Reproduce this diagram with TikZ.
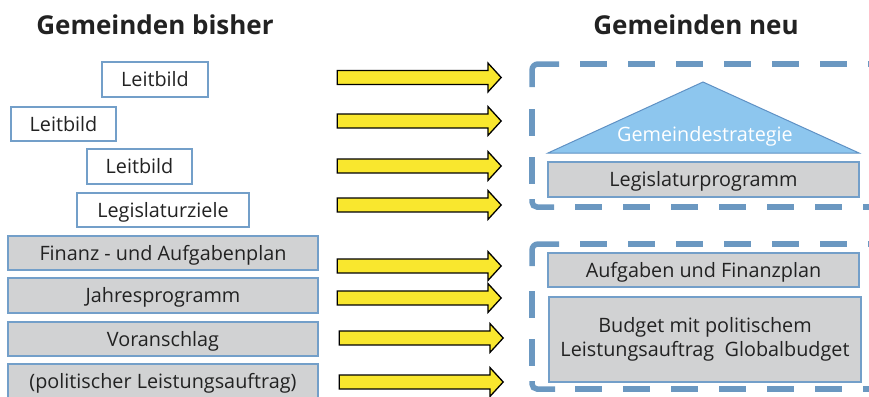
\documentclass[tikz,border=0pt]{standalone}
\usepackage{fontspec}
\setmainfont{Open Sans}
\usetikzlibrary{shapes.arrows}
\definecolor{txt}{HTML}{222222}
\definecolor{boxblue}{HTML}{739FC9}
\definecolor{boxgray}{HTML}{D1D2D3}
\definecolor{dashblue}{HTML}{6B98C1}
\definecolor{trifill}{HTML}{8DC6EE}
\definecolor{triline}{HTML}{5F91C4}
\definecolor{arrowyellow}{HTML}{F9E72E}
\tikzset{
  basetext/.style={font=\fontsize{19.8}{24}\selectfont, text=txt, inner sep=0pt},
  bodytext/.style={basetext, text height=14.1pt, text depth=0pt},
  wbox/.style={bodytext, draw=boxblue, line width=1.5pt, fill=white},
  gbox/.style={bodytext, draw=boxblue, line width=1.5pt, fill=boxgray},
  gboxml/.style={basetext, align=center, draw=boxblue, line width=1.5pt, fill=boxgray},
  titletext/.style={font=\fontsize{26}{30}\selectfont\bfseries, text=txt, inner sep=0pt, anchor=base},
  yarrow/.style={single arrow, draw=black, line width=1.3pt, fill=arrowyellow,
     inner xsep=0pt, inner ysep=6.3pt, single arrow head extend=7.5pt, minimum width=0pt,
     single arrow tip angle=95, minimum height=164pt},
  dashline/.style={draw=dashblue, line width=5.5pt},
  dashrun/.style={dashline, dash pattern=on 27pt off 21pt},
}
\begin{document}
\begin{tikzpicture}[x=1pt,y=-1pt]
\useasboundingbox (0,0) rectangle (869,396);
\clip (0,0) rectangle (869,396);

% titles
\node[titletext] (t1) at (155,35) {Gemeinden bisher};
\node[titletext] (t2) at (696,35) {Gemeinden neu};

% left column
\node[wbox, minimum width=106pt, minimum height=35pt] (l1) at (155,79.5) {Leitbild};
\node[wbox, minimum width=105pt, minimum height=34pt] (l2) at (63.5,124) {Leitbild};
\node[wbox, minimum width=105pt, minimum height=35pt] (l3) at (139.5,166.5) {Leitbild};
\node[wbox, minimum width=172pt, minimum height=34pt] (l4) at (163,210) {Legislaturziele};
\node[gbox, minimum width=310pt, minimum height=34pt] (g1) at (163,253) {Finanz - und Aufgabenplan};
\node[gbox, minimum width=310pt, minimum height=35pt] (g2) at (163,295.5) {Jahresprogramm};
\node[gbox, minimum width=310pt, minimum height=34pt] (g3) at (163,339) {Voranschlag};
\node[gbox, minimum width=310pt, minimum height=35pt] (g4) at (163,381.5) {(politischer Leistungsauftrag)};

% arrows
\node[yarrow] (a1) at (416,77.5) {};
\node[yarrow] (a2) at (416,121) {};
\node[yarrow] (a3) at (416,166) {};
\node[yarrow] (a4) at (416,205) {};
\node[yarrow] (a5) at (416,266) {};
\node[yarrow] (a6) at (416,298) {};
\node[yarrow] (a7) at (418,338) {};
\node[yarrow] (a8) at (418,382) {};

% dashed frame 1
\draw[dashline, rounded corners=6pt] (532,87) -- (532,64) -- (559,64);
\draw[dashrun] (580,64) -- (890,64);
\draw[dashrun] (532,109) -- (532,184);
\draw[dashline, rounded corners=5pt] (532,199) -- (532,207) -- (554,207);
\draw[dashrun] (575,207) -- (890,207);

% dashed frame 2
\draw[dashline, rounded corners=6pt] (532,266) -- (532,244) -- (559,244);
\draw[dashrun] (580,244) -- (890,244);
\draw[dashrun] (532,291) -- (532,366);
\draw[dashline, rounded corners=5pt] (532,381) -- (532,389) -- (555,389);
\draw[dashrun] (575,389) -- (890,389);

% strategy triangle
\draw[fill=trifill, draw=triline, line width=1pt] (548,153) -- (703,82) -- (859,153) -- cycle;
\node[bodytext, text=white] (gs) at (705,134) {Gemeindestrategie};

% right boxes
\node[gbox, minimum width=311pt, minimum height=35pt] (r1) at (703.5,179.5) {Legislaturprogramm};
\node[gbox, minimum width=311pt, minimum height=34pt] (r2) at (703.5,270) {Aufgaben und Finanzplan};
\node[gboxml, minimum width=312pt, minimum height=85pt] (r3) at (705,339.5) {Budget mit politischem\\Leistungsauftrag~~Globalbudget};
\end{tikzpicture}
\end{document}
